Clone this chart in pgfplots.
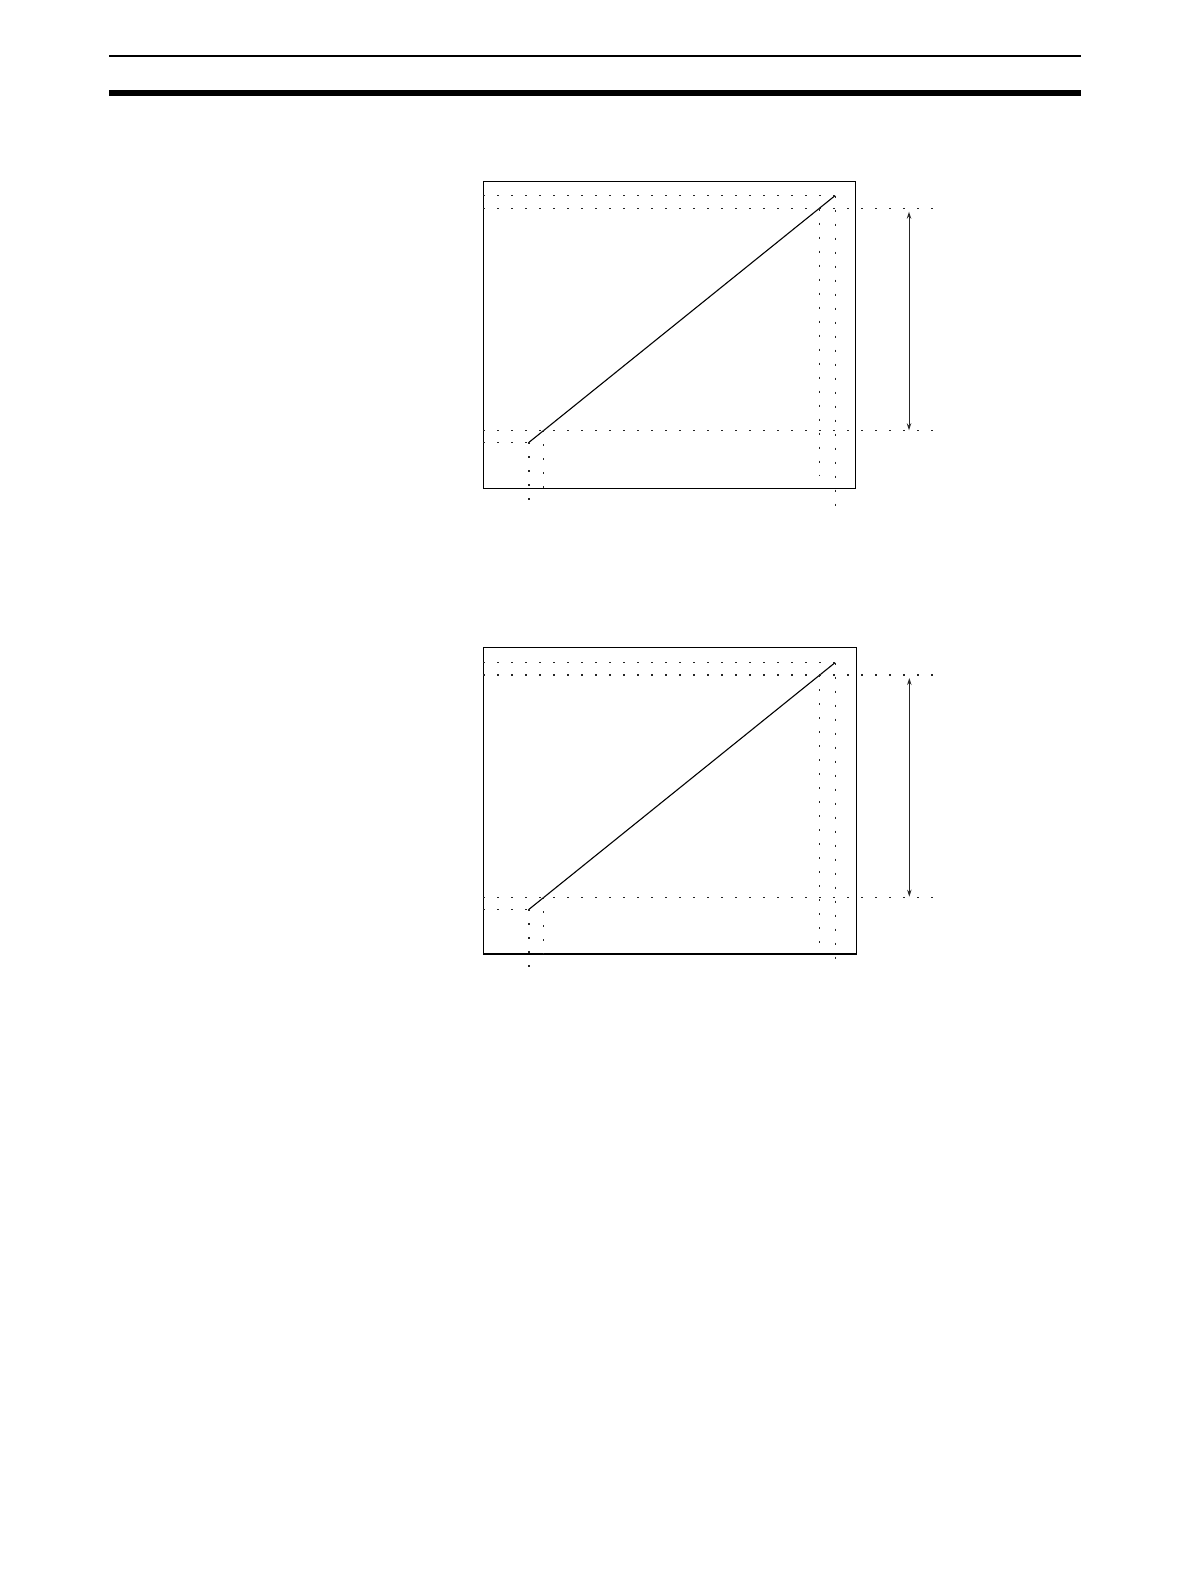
\documentclass[border=0pt]{standalone}
\usepackage{pgfplots}
\pgfplotsset{compat=1.18}
\usetikzlibrary{arrows.meta}

% one pixel of the page = 0.5bp
\pgfplotsset{
  scalebox/.style={
    scale only axis,
    clip=false,
    xtick=\empty, ytick=\empty,
    axis line style={line width=0.65bp},
    anchor=south west,
  },
  guide/.style={no marks, line width=0.55bp, black!85,
    dash pattern=on 0.9bp off 6.1bp},
  ramp/.style={no marks, line width=0.55bp, black},
  span/.style={no marks, line width=0.5bp, black!85,
    {Stealth[length=3.5bp,width=2.2bp]}-{Stealth[length=3.5bp,width=2.2bp]}},
}

\begin{document}
\begin{tikzpicture}
  \fill[white] (0,0) rectangle (595bp,-793bp);
  \useasboundingbox (0,0) rectangle (595bp,-793bp);

  % page header rules
  \draw[line width=1bp] (54.5bp,-27.85bp) -- (540.5bp,-27.85bp);
  \draw[line width=2.85bp] (54.5bp,-46.4bp) -- (540.5bp,-46.4bp);

  % upper chart
  \begin{axis}[scalebox,
      at={(241.65bp,-244.15bp)},
      width=186.2bp, height=153.5bp,
      xmin=0, xmax=372.4, ymin=0, ymax=307]
    \addplot[ramp] coordinates {(45.7,46) (351.7,292.6)};
    % horizontal guides
    \addplot[guide] coordinates {(0,292.6) (351.7,292.6)};
    \addplot[guide] coordinates {(0,279.6) (453.4,279.6)};
    \addplot[guide] coordinates {(0,58) (453.4,58)};
    \addplot[guide] coordinates {(0,46) (45.7,46)};
    % vertical guides
    \addplot[guide] coordinates {(45.7,46) (45.7,-11.7)};
    \addplot[guide] coordinates {(60,58) (60,0)};
    \addplot[guide] coordinates {(336,279.6) (336,13.3)};
    \addplot[guide] coordinates {(352.4,292.6) (352.4,-18.4)};
    % span arrow
    \addplot[span] coordinates {(425.7,276.6) (425.7,58)};
  \end{axis}

  % lower chart
  \begin{axis}[scalebox,
      at={(241.65bp,-477bp)},
      width=186.5bp, height=153.35bp,
      xmin=0, xmax=373, ymin=0, ymax=306.7]
    \addplot[ramp] coordinates {(45.7,44.7) (351.7,291.3)};
    % horizontal guides
    \addplot[guide] coordinates {(0,291.3) (351.7,291.3)};
    \addplot[guide] coordinates {(0,279) (453.4,279)};
    \addplot[guide] coordinates {(0,56.7) (453.4,56.7)};
    \addplot[guide] coordinates {(0,44.7) (45.7,44.7)};
    % vertical guides
    \addplot[guide] coordinates {(45.7,44.7) (45.7,-12.7)};
    \addplot[guide] coordinates {(60,56.7) (60,0)};
    \addplot[guide] coordinates {(336,279) (336,11)};
    \addplot[guide] coordinates {(352.4,291.3) (352.4,-14)};
    % span arrow
    \addplot[span] coordinates {(426,276) (426,57.3)};
  \end{axis}
\end{tikzpicture}
\end{document}
